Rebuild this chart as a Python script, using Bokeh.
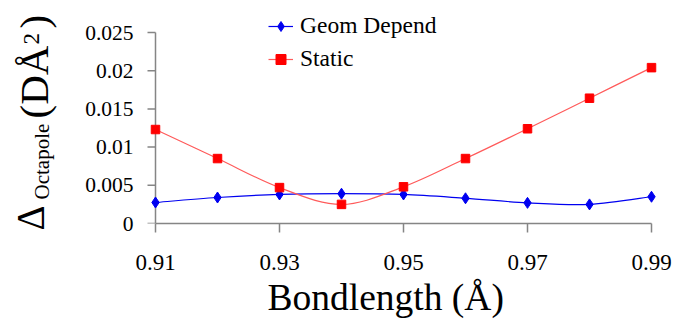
import math
from bokeh.plotting import figure
from bokeh.layouts import row
from bokeh.models import Range1d, FixedTicker, Legend, LegendItem, ColumnDataSource, Title, Label
from bokeh.embed import file_html
from bokeh.resources import INLINE

# ---- data ----
bondlength = [0.91, 0.92, 0.93, 0.94, 0.95, 0.96, 0.97, 0.98, 0.99]
geom_depend = [0.00275, 0.0034, 0.0038, 0.0039, 0.0038, 0.0033, 0.0027, 0.0025, 0.0035]
static = [0.0123, 0.0085, 0.0047, 0.0025, 0.0048, 0.0085, 0.0124, 0.0164, 0.0204]
x_ticks = [0.91, 0.93, 0.95, 0.97, 0.99]
x_tick_labels = ["0.91", "0.93", "0.95", "0.97", "0.99"]
y_ticks = [0, 0.005, 0.01, 0.015, 0.02, 0.025]
y_tick_labels = ["0", "0.005", "0.01", "0.015", "0.02", "0.025"]
series_names = ["Geom Depend", "Static"]
x_title = "Bondlength (Å)"
y_title_parts = ["Δ", "Octapole", "(DÅ", "2", ")"]

FONT = "Liberation Serif"
AXIS_COLOR = "#858585"
BLUE = "#0000f0"
RED = "#ff0000"
RED_LINE = "#ff5a5a"

H = 325
LW = 60                 # width of the y-title strip
W = 612                 # main figure width
ML, MR, MT, MB = 86, 12, 12, 102
PX_X = 6200.0           # pixels per data unit, x
PX_Y = 7640.0           # pixels per data unit, y
x0 = x_ticks[0] - 9 / PX_X
x1 = x0 + (W - ML - MR) / PX_X
y1 = (H - MT - MB) / PX_Y

p = figure(width=W, height=H, output_backend="svg", toolbar_location=None,
           x_range=Range1d(x0, x1), y_range=Range1d(0, y1),
           min_border_left=ML, min_border_right=MR, min_border_top=MT, min_border_bottom=MB)
p.outline_line_color = None
p.xgrid.visible = False
p.ygrid.visible = False
p.background_fill_color = "white"
p.border_fill_color = "white"

# x axis
xa = p.xaxis[0]
xa.ticker = FixedTicker(ticks=x_ticks)
xa.major_label_overrides = dict(zip(x_ticks, x_tick_labels))
xa.bounds = (x_ticks[0], x_ticks[-1])
xa.axis_line_color = AXIS_COLOR
xa.axis_line_width = 1.5
xa.major_tick_line_color = AXIS_COLOR
xa.major_tick_line_width = 1.5
xa.major_tick_out = 9
xa.major_tick_in = 0
xa.minor_tick_line_color = None
xa.major_label_text_font = FONT
xa.major_label_text_font_size = "23px"
xa.major_label_text_color = "black"
xa.major_label_standoff = 22

# x title as a left-aligned title below the axis, offset to match the reference
p.add_layout(Title(text=x_title, align="left", offset=121, standoff=5,
                   text_font=FONT, text_font_style="normal", text_font_size="37.5px",
                   text_color="black"), "below")

# y axis (labels only; line and ticks drawn at x = 0.91)
ya = p.yaxis[0]
ya.ticker = FixedTicker(ticks=y_ticks)
ya.major_label_overrides = dict(zip(y_ticks, y_tick_labels))
ya.axis_line_color = None
ya.major_tick_line_color = None
ya.minor_tick_line_color = None
ya.major_tick_out = 0
ya.major_tick_in = 0
ya.major_label_text_font = FONT
ya.major_label_text_font_size = "21.5px"
ya.major_label_text_color = "black"
ya.major_label_standoff = 13

p.segment(x0=[x_ticks[0]], y0=[y_ticks[0]], x1=[x_ticks[0]], y1=[y_ticks[-1]],
          line_color=AXIS_COLOR, line_width=1.5)
tick_len = 8 / PX_X
p.segment(x0=[x_ticks[0] - tick_len] * len(y_ticks), y0=y_ticks,
          x1=[x_ticks[0]] * len(y_ticks), y1=y_ticks,
          line_color=AXIS_COLOR, line_width=1.5)


def smooth_segments(xs, ys):
    n = len(xs)
    d = dict(x0=[], y0=[], x1=[], y1=[], cx0=[], cy0=[], cx1=[], cy1=[])
    for i in range(n - 1):
        im1 = max(i - 1, 0)
        ip2 = min(i + 2, n - 1)
        d["x0"].append(xs[i]); d["y0"].append(ys[i])
        d["x1"].append(xs[i + 1]); d["y1"].append(ys[i + 1])
        d["cx0"].append(xs[i] + (xs[i + 1] - xs[im1]) / 6)
        d["cy0"].append(ys[i] + (ys[i + 1] - ys[im1]) / 6)
        d["cx1"].append(xs[i + 1] - (xs[ip2] - xs[i]) / 6)
        d["cy1"].append(ys[i + 1] - (ys[ip2] - ys[i]) / 6)
    return ColumnDataSource(d)


bz = dict(x0="x0", y0="y0", x1="x1", y1="y1", cx0="cx0", cy0="cy0", cx1="cx1", cy1="cy1")
gb = p.bezier(source=smooth_segments(bondlength, geom_depend), line_color=BLUE, line_width=1.2, **bz)
gm = p.scatter(bondlength, geom_depend, marker="diamond", size=11,
               fill_color=BLUE, line_color=BLUE)
sb = p.bezier(source=smooth_segments(bondlength, static), line_color=RED_LINE, line_width=1.2, **bz)
sm = p.scatter(bondlength, static, marker="square", size=8.5, fill_color=RED, line_color=RED)

legend = Legend(items=[LegendItem(label=series_names[0], renderers=[gb, gm]),
                       LegendItem(label=series_names[1], renderers=[sb, sm])],
                location=(122, 151), orientation="vertical",
                label_text_font=FONT, label_text_font_size="23.5px", label_text_color="black",
                glyph_width=25, glyph_height=26, label_height=26, label_standoff=7,
                spacing=6, padding=0, margin=0,
                border_line_color=None, background_fill_alpha=0)
p.add_layout(legend, "center")

# ---- y title strip: frame spans the whole canvas, data units = pixels (y up) ----
q = figure(width=LW, height=H, output_backend="svg", toolbar_location=None,
           x_range=Range1d(0, LW), y_range=Range1d(0, H),
           x_axis_location=None, y_axis_location=None,
           min_border_left=0, min_border_right=0, min_border_top=0, min_border_bottom=0)
q.outline_line_color = None
q.xgrid.visible = False
q.ygrid.visible = False
q.background_fill_color = "white"
q.border_fill_color = "white"
# keep the strip's frame independent of the main plot's frame
if "frame_align" in q.properties():
    q.frame_align = False
    p.frame_align = False
part_x = [30, 41, 33, 31, 33]           # centre line of each rotated piece
part_top = [230, 199, 118, 44, 28]      # distance from the top edge where each piece starts
part_size = ["39px", "21px", "41px", "23px", "41px"]
for t, px, pt, fs in zip(y_title_parts, part_x, part_top, part_size):
    q.add_layout(Label(x=px, y=H - pt, x_units="data", y_units="data", text=t,
                       angle=90, angle_units="deg", text_align="left",
                       text_baseline="middle", text_font=FONT, text_font_size=fs,
                       text_color="black"))

layout = row(q, p)
open("out.html", "w").write(file_html(layout, INLINE))
